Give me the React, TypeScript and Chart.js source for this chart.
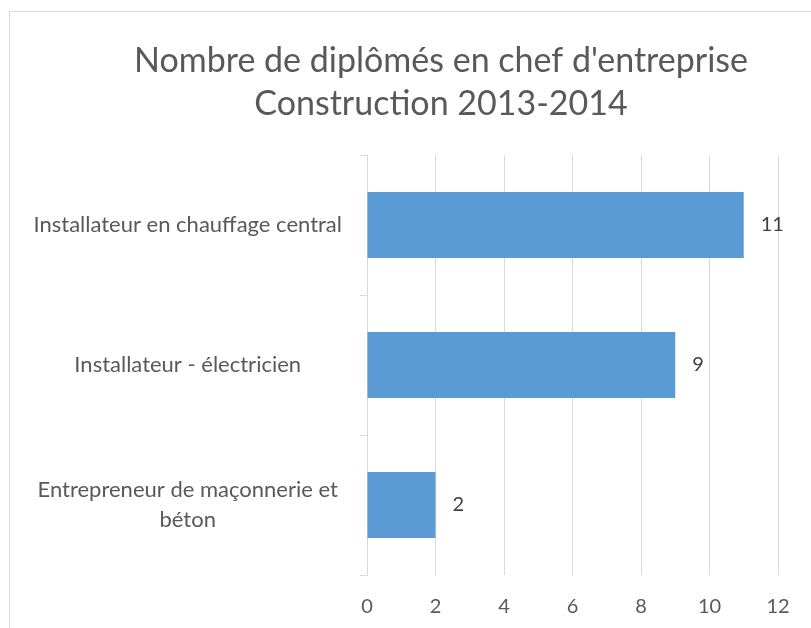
import React, { useEffect, useRef } from "react";
import { Chart, registerables } from "chart.js";

Chart.register(...registerables);

const titleLines = ["Nombre de diplômés en chef d'entreprise", "Construction 2013-2014"];
const categories: (string | string[])[] = [
  "Installateur en chauffage central",
  "Installateur - électricien",
  ["Entrepreneur de maçonnerie et", "béton"],
];
const values = [11, 9, 2];
const xMin = 0;
const xMax = 12;
const xStep = 2;

const FONT = "Lato, 'Open Sans', sans-serif";

const dataLabelPlugin = {
  id: "dataLabels",
  afterDatasetsDraw(chart: any) {
    const ctx = chart.ctx;
    const meta = chart.getDatasetMeta(0);
    ctx.save();
    ctx.font = `20px ${FONT}`;
    ctx.fillStyle = "#404040";
    ctx.textAlign = "left";
    ctx.textBaseline = "middle";
    meta.data.forEach((bar: any, i: number) => {
      ctx.fillText(String(values[i]), bar.x + 17, bar.y);
    });
    ctx.restore();
  },
};

export default function App() {
  const ref = useRef<HTMLCanvasElement>(null);
  useEffect(() => {
    if (!ref.current) return;
    const chart = new Chart(ref.current, {
      type: "bar",
      data: {
        labels: categories,
        datasets: [
          {
            data: values,
            backgroundColor: "#5b9bd5",
            borderWidth: 0,
            categoryPercentage: 1,
            barPercentage: 0.47,
          },
        ],
      },
      options: {
        indexAxis: "y",
        responsive: false,
        animation: false,
        layout: { padding: { left: 0, right: 0, top: 0, bottom: 0 } },
        plugins: {
          legend: { display: false },
          tooltip: { enabled: false },
          title: {
            display: true,
            text: titleLines,
            color: "#595959",
            font: { family: FONT, size: 34, weight: "normal", lineHeight: 43 / 34 },
            padding: { top: 40, bottom: 29 },
          },
        },
        scales: {
          x: {
            type: "linear",
            min: xMin,
            max: xMax,
            ticks: {
              stepSize: xStep,
              color: "#595959",
              font: { family: FONT, size: 20 },
              padding: 20,
            },
            grid: { color: "#d9d9d9", drawTicks: false, lineWidth: 1 },
            border: { display: false },
            afterFit: (s: any) => {
              s.height = 53;
            },
          },
          y: {
            type: "category",
            offset: true,
            ticks: {
              color: "#595959",
              font: { family: FONT, size: 22, lineHeight: 1.36 },
              crossAlign: "center",
              padding: 18,
            },
            grid: {
              offset: true,
              drawOnChartArea: false,
              drawTicks: true,
              tickLength: 7,
              color: "#d9d9d9",
            },
            border: { display: true, color: "#d9d9d9" },
            afterFit: (s: any) => {
              s.width = 367;
            },
          },
          spacer: {
            type: "linear",
            position: "right",
            display: true,
            ticks: { display: false },
            grid: { display: false, drawTicks: false },
            border: { display: false },
            afterFit: (s: any) => {
              s.width = 104;
            },
          },
        },
      },
      plugins: [dataLabelPlugin],
    });
    return () => chart.destroy();
  }, []);

  return (
    <div
      style={{
        position: "fixed",
        left: 0,
        top: 0,
        width: 811,
        height: 628,
        overflow: "hidden",
        background: "#fff",
      }}
    >
      <div
        style={{
          position: "absolute",
          left: 9,
          top: 11,
          width: 900,
          height: 900,
          border: "1px solid #d9d9d9",
          boxSizing: "border-box",
        }}
      />
      <canvas
        ref={ref}
        width={882}
        height={628}
        style={{ position: "absolute", left: 0, top: 0, width: 882, height: 628 }}
      />
    </div>
  );
}
